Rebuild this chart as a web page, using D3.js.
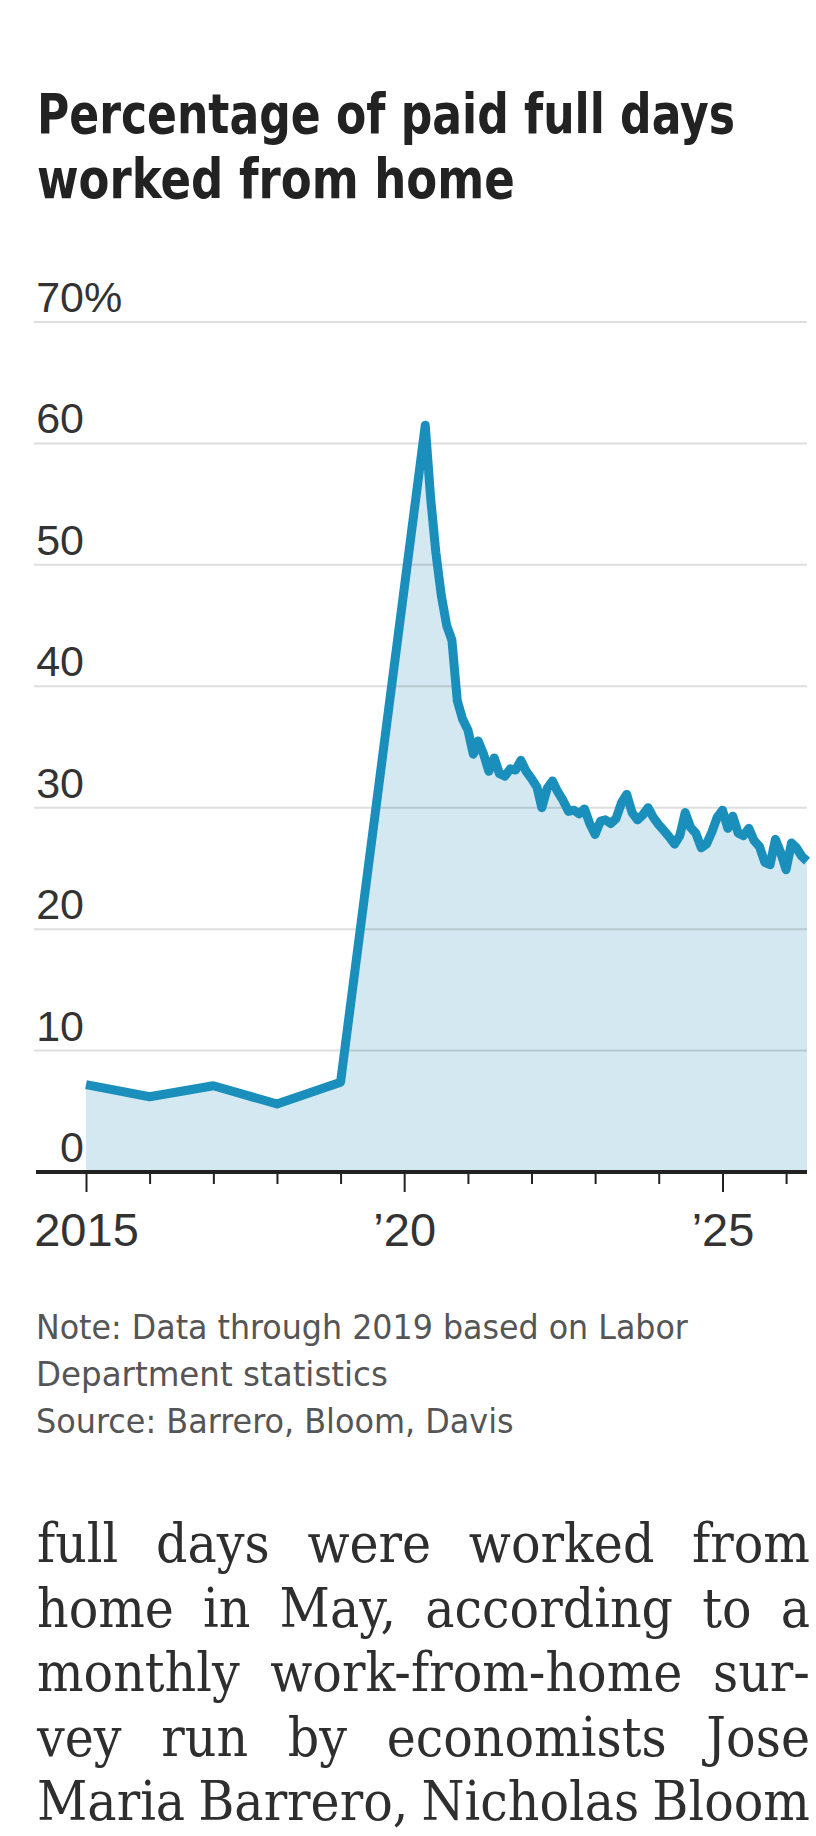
<!DOCTYPE html>
<html>
<head>
<meta charset="utf-8">
<script src="https://cdn.jsdelivr.net/npm/d3@7"></script>
<style>
body { margin: 0; background: #fff; }
svg { display: block; }
</style>
</head>
<body>
<script>
// ---- data ----
var titleLines = ["Percentage of paid full days", "worked from home"];
var noteLines = ["Note: Data through 2019 based on Labor", "Department statistics", "Source: Barrero, Bloom, Davis"];
var bodyLines = [
	"full days were worked from",
	"home in May, according to a",
	"monthly work-from-home sur-",
	"vey run by economists Jose",
	"Maria Barrero, Nicholas Bloom"
];
// Labor Department annual figures, plotted at the start of each year
var annualYears = [2015, 2016, 2017, 2018, 2019];
var annualValues = [7.2, 6.2, 7.1, 5.6, 7.4];
// monthly survey, May 2020 onward
var surveyStart = [2020, 4];
var surveyValues = [
	61.5, 55.5, 51.0, 47.5, 45.0, 43.8, 38.8, 37.3,
	36.4, 34.4, 35.5, 34.4, 33.0, 34.1, 32.8, 32.6, 33.2, 33.1, 33.9, 33.0,
	32.4, 31.7, 30.0, 31.6, 32.2, 31.3, 30.6, 29.7, 29.8, 29.5, 29.9, 28.7,
	27.8, 28.9, 29.0, 28.7, 29.1, 30.4, 31.1, 29.6, 29.0, 29.4, 30.0, 29.2,
	28.6, 28.1, 27.6, 27.0, 27.7, 29.6, 28.4, 27.9, 26.7, 27.0, 28.0, 29.2,
	29.8, 28.3, 29.3, 27.9, 27.7, 28.3, 27.3, 26.8, 25.5, 25.3, 27.4, 26.3,
	24.9, 27.1, 26.7, 26.0, 25.6
];
var yTicks = [0, 10, 20, 30, 40, 50, 60, 70];
var xTickYears = [2015, 2016, 2017, 2018, 2019, 2020, 2021, 2022, 2023, 2024, 2025, 2026];
var xTickLabels = {2015: "2015", 2020: "\u201920", 2025: "\u201925"};

var W = 816, H = 1836;
var sansFont = "'Liberation Sans Narrow', 'DejaVu Sans Condensed', sans-serif";

var svg = d3.select("body").append("svg")
	.attr("width", W).attr("height", H);

/* squeeze a text line horizontally so it spans w pixels */
function fitLine(g, str, x0, base, w){
	var t = g.append("text").text(str);
	var natural = t.node().getComputedTextLength();
	var s = w / natural;
	t.attr("transform", "translate(" + x0 + "," + base + ") scale(" + s + ",1)");
	return t;
}

// ---- title ----
var title = svg.append("g")
	.style("font-family", sansFont)
	.style("font-weight", "bold")
	.style("font-size", "56px")
	.style("fill", "#222");
var titleWidths = [698, 478];
titleLines.forEach(function(t, i){
	fitLine(title, t, 37, 133 + i * 65, titleWidths[i]);
});

// ---- chart ----
var series = annualYears.map(function(yr, i){
	return {date: new Date(yr, 0, 1), value: annualValues[i]};
});
surveyValues.forEach(function(v, i){
	series.push({date: new Date(surveyStart[0], surveyStart[1] + i, 1), value: v});
});

var x = d3.scaleTime()
	.domain([new Date(2015, 0, 1), new Date(2026, 4, 1)])
	.range([86, 807]);
var y = d3.scaleLinear()
	.domain([0, 70])
	.range([1172, 322]);

var chart = svg.append("g");

var area = d3.area()
	.x(function(d){ return x(d.date); })
	.y0(y(0))
	.y1(function(d){ return y(d.value); });
var line = d3.line()
	.x(function(d){ return x(d.date); })
	.y(function(d){ return y(d.value); });

chart.append("path")
	.datum(series)
	.attr("d", area)
	.style("fill", "#d3e8f0");

// gridlines on top of the fill, slightly transparent
chart.selectAll("line.grid")
	.data(yTicks.filter(function(d){ return d > 0; }))
	.enter().append("line")
	.classed("grid", true)
	.attr("x1", 34).attr("x2", 807)
	.attr("y1", function(d){ return y(d); })
	.attr("y2", function(d){ return y(d); })
	.style("stroke", "rgba(0,0,0,0.13)")
	.style("stroke-width", 2);

// y labels, right aligned on the digits, % hangs after 70
var yLab = chart.append("g")
	.style("font-family", "'Liberation Sans', Arial, sans-serif")
	.style("font-size", "43px")
	.style("fill", "#333");
yLab.selectAll("text")
	.data(yTicks)
	.enter().append("text")
	.attr("x", 84)
	.attr("y", function(d){ return y(d) - 10; })
	.attr("text-anchor", "end")
	.text(function(d){ return d; });
yLab.append("text")
	.attr("x", 84).attr("y", y(70) - 10)
	.text("%");

chart.append("path")
	.datum(series)
	.attr("d", line)
	.style("fill", "none")
	.style("stroke", "#1a8fbc")
	.style("stroke-width", 9)
	.style("stroke-linejoin", "round")
	.style("stroke-linecap", "butt");

// x axis
var xAxis = d3.axisBottom(x)
	.tickValues(xTickYears.map(function(yr){ return new Date(yr, 0, 1); }))
	.tickSizeInner(12)
	.tickSizeOuter(0)
	.tickFormat(function(d){ return xTickLabels[d.getFullYear()] || ""; });
var axisG = chart.append("g")
	.attr("transform", "translate(0," + y(0) + ")")
	.call(xAxis);
axisG.select(".domain").remove();
axisG.selectAll(".tick line")
	.attr("y2", function(d){ return xTickLabels[d.getFullYear()] ? 20 : 12; })
	.style("stroke", "#222")
	.style("stroke-width", 2);
axisG.selectAll(".tick text")
	.attr("y", 74).attr("dy", null)
	.style("font-family", "'Liberation Sans', Arial, sans-serif")
	.style("font-size", "47px")
	.style("fill", "#333");
axisG.append("line")
	.attr("x1", 36).attr("x2", 807)
	.style("stroke", "#222")
	.style("stroke-width", 4);

// ---- note ----
var note = svg.append("g")
	.style("font-family", sansFont)
	.style("font-size", "34px")
	.style("fill", "#555");
var noteWidths = [652, 352, 478];
noteLines.forEach(function(t, i){
	fitLine(note, t, 36, 1339 + i * 47, noteWidths[i]);
});

// ---- body text, justified ----
var bodyLeft = 37, bodyRight = 810;
var bodyG = svg.append("g")
	.style("font-family", "'DejaVu Serif', 'Liberation Serif', serif")
	.style("font-size", "54px")
	.style("fill", "#2e2e2e");
var probe = bodyG.append("text");
function wordWidth(w){
	probe.text(w);
	return probe.node().getComputedTextLength();
}
var lines = bodyLines.map(function(l){
	var words = l.split(" ");
	return {words: words, widths: words.map(wordWidth)};
});
probe.remove();
var minGap = 13;
var sx = d3.min(lines, function(l){
	return (bodyRight - bodyLeft - (l.words.length - 1) * minGap) / d3.sum(l.widths);
});
sx = Math.min(sx, 1);
lines.forEach(function(l, i){
	var total = d3.sum(l.widths) * sx;
	var gap = (bodyRight - bodyLeft - total) / (l.words.length - 1);
	var xPos = bodyLeft;
	var base = 1562 + i * 64.5;
	l.words.forEach(function(w, j){
		bodyG.append("text")
			.attr("transform", "translate(" + xPos + "," + base + ") scale(" + sx + ",1)")
			.text(w);
		xPos += l.widths[j] * sx + gap;
	});
});
</script>
</body>
</html>
